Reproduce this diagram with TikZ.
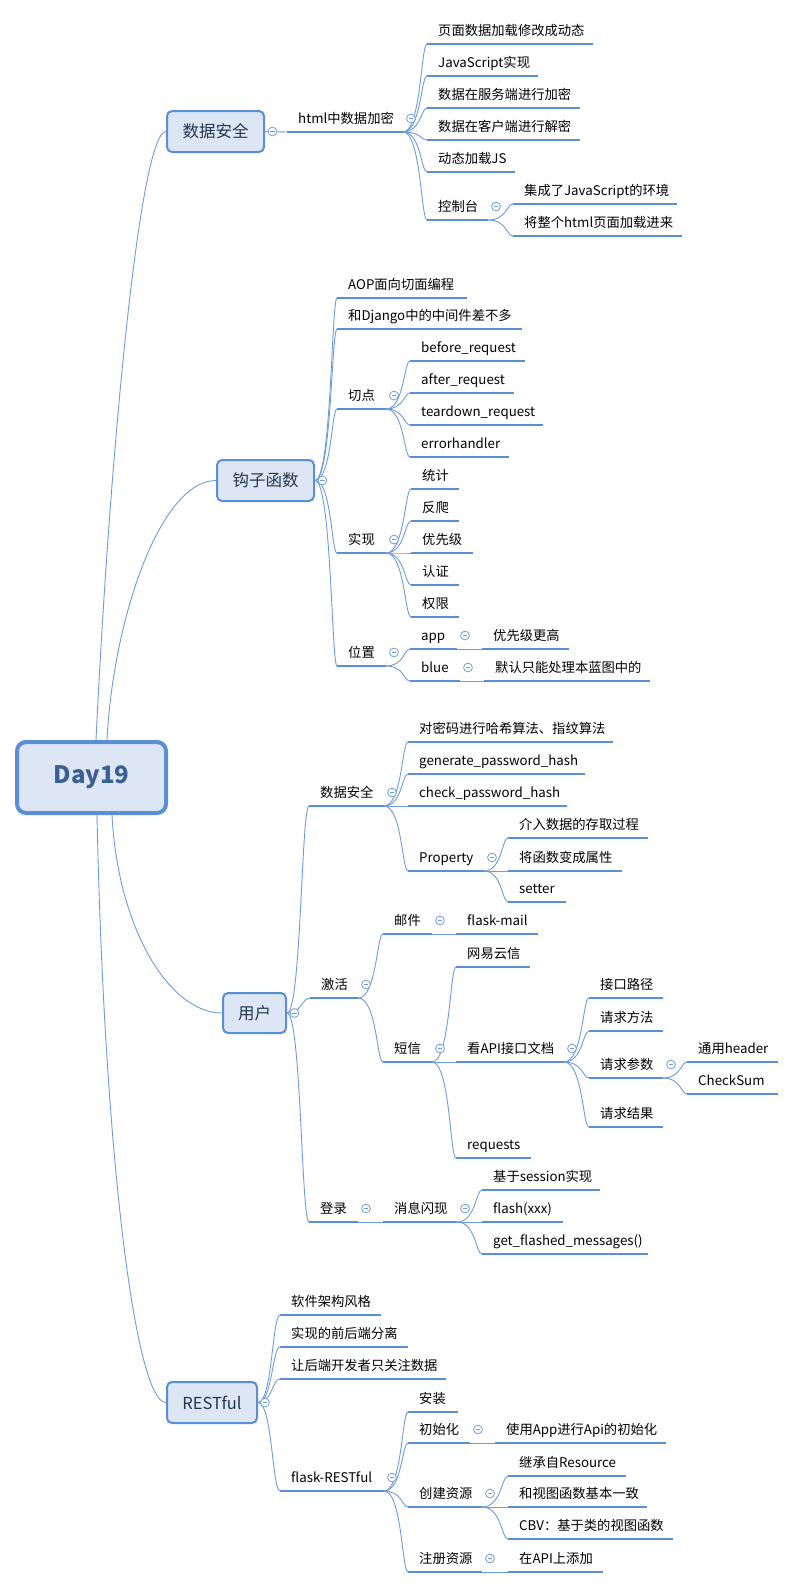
\documentclass[tikz,border=0pt]{standalone}
\usepackage{fontspec}
\setmainfont{Noto Sans CJK SC}
\usetikzlibrary{calc}
\definecolor{ulblue}{HTML}{5A8ED5}
\definecolor{lnblue}{HTML}{6C9BDB}
\definecolor{boxfill}{HTML}{DCE6F4}
\definecolor{roottext}{HTML}{3A5F92}
\definecolor{l1text}{HTML}{26364C}
\newcommand\fs{\fontsize{13.3}{16}\selectfont}
\newcommand\tp[5]{%
  \coordinate (#1-l) at (#2,#4);
  \coordinate (#1-r) at (#3,#4);
  \draw[ul] (#1-l) -- (#1-r);
  \node[tt] (#1) at (#2+11,#4-8.5) {#5};}
\newcommand\cl[1]{\node[coll] (#1-c) at ($(#1-r)+(8,-13.5)$) {};}
\newcommand\br[3][0.75]{%
  \path ($(#2)!#1!(#3)$) coordinate (brtmp);
  \draw[conn] (#2) .. controls (brtmp |- #2) and (brtmp |- #3) .. (#3);}
\tikzset{
  ul/.style={line width=2.6pt, draw=ulblue},
  conn/.style={line width=0.9pt, draw=lnblue},
  tt/.style={anchor=base west, inner sep=0pt, font=\fs, text=black},
  l1/.style={draw=ulblue, line width=2pt, fill=boxfill, rounded corners=5pt,
    font=\fontsize{16.5}{20}\selectfont, text=l1text, inner sep=0pt},
  rootbox/.style={draw=ulblue, line width=4pt, fill=boxfill, rounded corners=9pt,
    font=\fontsize{24}{28}\selectfont\bfseries, text=roottext, inner sep=0pt,
    minimum width=149pt, minimum height=71pt},
  coll/.style={circle, draw=lnblue, line width=0.8pt, fill=white, minimum size=8.8pt, inner sep=0pt,
    path picture={\draw[lnblue, line width=0.8pt] ([xshift=2.2pt]path picture bounding box.west) -- ([xshift=-2.2pt]path picture bounding box.east);}}
}
\begin{document}
\begin{tikzpicture}[x=1pt,y=-1pt]
\useasboundingbox (0,0) rectangle (796,1588);
% root and main topics
\node[rootbox] (root) at (91.5,777.5) {Day19};
\node[l1, minimum width=97pt, minimum height=41pt] (s1) at (215.5,131.5) {数据安全};
\node[l1, minimum width=97pt, minimum height=41pt] (s2) at (265.5,480.5) {钩子函数};
\node[l1, minimum width=63pt, minimum height=40pt] (s3) at (254.5,1013) {用户};
\node[l1, minimum width=90pt, minimum height=41pt] (s4) at (212,1402.5) {RESTful};
\draw[conn] ($(root.north)+(4.5,0)$) .. controls (110,450) and (140,131.5) .. (s1.west);
\draw[conn] ($(root.north)+(15.5,0)$) .. controls (113,620) and (160,480.5) .. (s2.west);
\draw[conn] ($(root.south)+(20.5,0)$) .. controls (118,930) and (170,1013) .. (s3.west);
\draw[conn] ($(root.south)+(5.5,0)$) .. controls (104,1150) and (135,1402.5) .. (s4.west);
% section 1
\tp{a1}{287}{403}{132}{html中数据加密}
\tp{a11}{427}{593}{44}{页面数据加载修改成动态}
\tp{a12}{427}{538}{76}{JavaScript实现}
\tp{a13}{427}{580}{108}{数据在服务端进行加密}
\tp{a14}{427}{580}{140}{数据在客户端进行解密}
\tp{a15}{427}{515}{172}{动态加载JS}
\tp{a16}{427}{488}{220}{控制台}
\tp{a161}{513}{677}{204}{集成了JavaScript的环境}
\tp{a162}{513}{682}{236}{将整个html页面加载进来}
\draw[conn] (s1.east) -- (a1-l);
\foreach \c in {a11,a12,a13,a14,a15,a16} {\br{a1-r}{\c-l}}
\br{a16-r}{a161-l}
\br{a16-r}{a162-l}
% section 2
\tp{b1}{337}{467}{298}{AOP面向切面编程}
\tp{b2}{337}{522}{329}{和Django中的中间件差不多}
\tp{b3}{337}{386}{409}{切点}
\tp{b31}{410}{525}{361}{before\_request}
\tp{b32}{410}{514}{393}{after\_request}
\tp{b33}{410}{543}{425}{teardown\_request}
\tp{b34}{410}{509}{457}{errorhandler}
\tp{b4}{337}{386}{553}{实现}
\tp{b41}{411}{459}{489}{统计}
\tp{b42}{411}{459}{521}{反爬}
\tp{b43}{411}{473}{553}{优先级}
\tp{b44}{411}{459}{585}{认证}
\tp{b45}{411}{459}{617}{权限}
\tp{b5}{337}{386}{666}{位置}
\tp{b51}{410}{457}{649}{app}
\tp{b511}{482}{569}{649}{优先级更高}
\tp{b52}{410}{460}{681}{blue}
\tp{b521}{484}{650}{681}{默认只能处理本蓝图中的}
\foreach \c in {b1,b2,b3,b4,b5} {\br{s2.east}{\c-l}}
\foreach \c in {b31,b32,b33,b34} {\br{b3-r}{\c-l}}
\foreach \c in {b41,b42,b43,b44,b45} {\br{b4-r}{\c-l}}
\br{b5-r}{b51-l}
\br{b5-r}{b52-l}
\br{b51-r}{b511-l}
\br{b52-r}{b521-l}
% section 3
\tp{c1}{309}{384}{806}{数据安全}
\tp{c11}{408}{613}{742}{对密码进行哈希算法、指纹算法}
\tp{c12}{408}{585}{774}{generate\_password\_hash}
\tp{c13}{408}{567}{806}{check\_password\_hash}
\tp{c14}{408}{484}{871}{Property}
\tp{c141}{508}{648}{838}{介入数据的存取过程}
\tp{c142}{508}{622}{871}{将函数变成属性}
\tp{c143}{508}{566}{902}{setter}
\tp{c2}{310}{358}{998}{激活}
\tp{c21}{383}{432}{934}{邮件}
\tp{c211}{456}{538}{934}{flask-mail}
\tp{c22}{383}{432}{1062}{短信}
\tp{c221}{456}{530}{967}{网易云信}
\tp{c222}{456}{564}{1062}{看API接口文档}
\tp{c2221}{589}{663}{998}{接口路径}
\tp{c2222}{589}{663}{1031}{请求方法}
\tp{c2223}{589}{663}{1078}{请求参数}
\tp{c22231}{687}{778}{1062}{通用header}
\tp{c22232}{687}{778}{1094}{CheckSum}
\tp{c2224}{589}{663}{1127}{请求结果}
\tp{c223}{456}{531}{1158}{requests}
\tp{c3}{309}{358}{1222}{登录}
\tp{c31}{383}{457}{1222}{消息闪现}
\tp{c311}{482}{600}{1190}{基于session实现}
\tp{c312}{482}{563}{1222}{flash(xxx)}
\tp{c313}{482}{648}{1254}{get\_flashed\_messages()}
\foreach \c in {c1,c2,c3} {\br[0.65]{s3.east}{\c-l}}
\foreach \c in {c11,c12,c13,c14} {\br{c1-r}{\c-l}}
\foreach \c in {c141,c142,c143} {\br{c14-r}{\c-l}}
\br{c2-r}{c21-l}
\br{c2-r}{c22-l}
\br{c21-r}{c211-l}
\foreach \c in {c221,c222,c223} {\br{c22-r}{\c-l}}
\foreach \c in {c2221,c2222,c2223,c2224} {\br{c222-r}{\c-l}}
\br{c2223-r}{c22231-l}
\br{c2223-r}{c22232-l}
\br{c3-r}{c31-l}
\foreach \c in {c311,c312,c313} {\br{c31-r}{\c-l}}
% section 4
\tp{d1}{280}{381}{1315}{软件架构风格}
\tp{d2}{280}{408}{1347}{实现的前后端分离}
\tp{d3}{280}{446}{1379}{让后端开发者只关注数据}
\tp{d4}{280}{384}{1491}{flask-RESTful}
\tp{d41}{408}{458}{1412}{安装}
\tp{d42}{408}{470}{1443}{初始化}
\tp{d421}{495}{666}{1443}{使用App进行Api的初始化}
\tp{d43}{408}{482}{1507}{创建资源}
\tp{d431}{508}{626}{1476}{继承自Resource}
\tp{d432}{508}{647}{1507}{和视图函数基本一致}
\tp{d433}{508}{673}{1539}{CBV：基于类的视图函数}
\tp{d44}{408}{482}{1572}{注册资源}
\tp{d441}{508}{603}{1572}{在API上添加}
\foreach \c in {d1,d2,d3,d4} {\br[0.65]{s4.east}{\c-l}}
\foreach \c in {d41,d42,d43,d44} {\br{d4-r}{\c-l}}
\br{d42-r}{d421-l}
\foreach \c in {d431,d432,d433} {\br{d43-r}{\c-l}}
\br{d44-r}{d441-l}
% collapse circles
\node[coll] (s1-c) at ($(s1.east)+(7.5,0)$) {};
\node[coll] (s2-c) at ($(s2.east)+(7.5,0)$) {};
\node[coll] (s3-c) at ($(s3.east)+(7.5,0)$) {};
\node[coll] (s4-c) at ($(s4.east)+(7,0)$) {};
\foreach \c in {a1,a16,b3,b4,b5,b51,b52,c1,c14,c2,c21,c22,c222,c2223,c3,c31,d4,d42,d43,d44} {\cl{\c}}
\end{tikzpicture}
\end{document}
